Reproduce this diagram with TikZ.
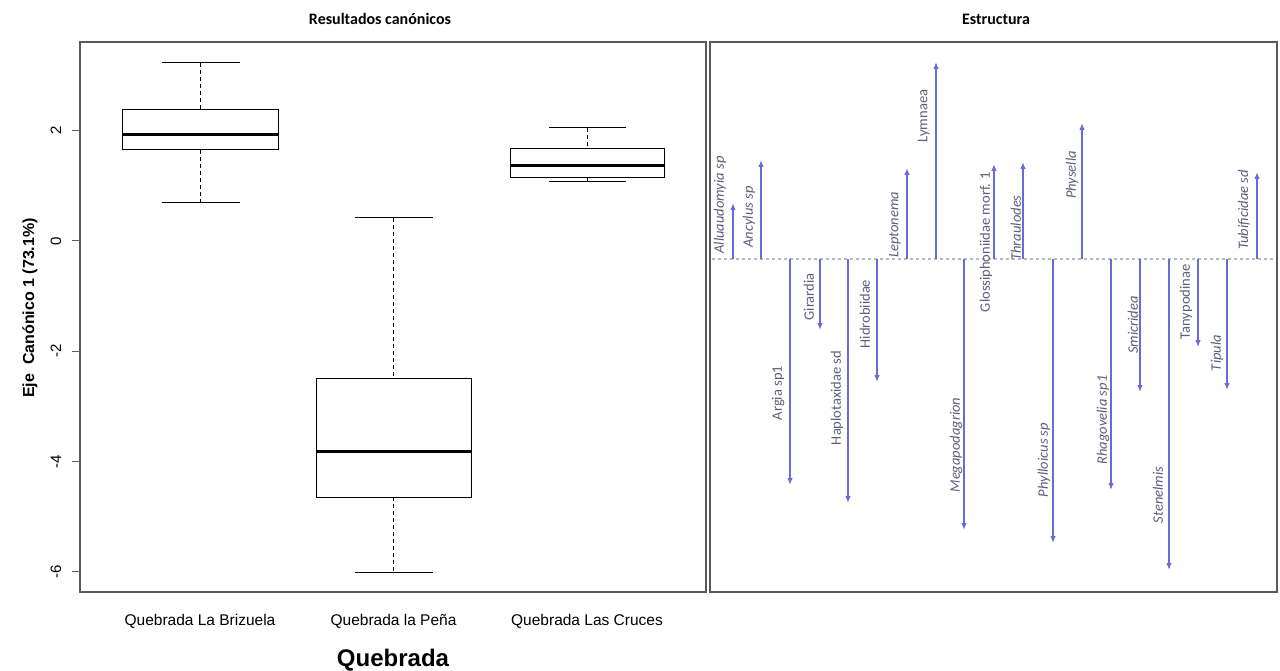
\documentclass[tikz,border=0pt]{standalone}
\usepackage{fontspec}
\setmainfont{Liberation Sans}
\newfontfamily\calib{Carlito}
\usetikzlibrary{arrows.meta}
\definecolor{arrowblue}{HTML}{6A6AD6}
\definecolor{labgray}{HTML}{5E5E7C}
\definecolor{framegray}{HTML}{5A5A5A}
\definecolor{basegray}{HTML}{B8B8C0}
\tikzset{
  frame/.style={draw=framegray, line width=1.3pt},
  boxline/.style={draw=black, line width=1pt},
  medline/.style={draw=black, line width=3pt},
  whisk/.style={draw=black, line width=0.9pt, dash pattern=on 4pt off 3pt},
  capline/.style={draw=black, line width=1pt},
  ticklab/.style={rotate=90, font=\fontsize{15}{15}\selectfont, inner sep=0pt},
  xlab/.style={font=\fontsize{15.5}{15.5}\selectfont, inner sep=0pt},
  titlelab/.style={font=\calib\bfseries\fontsize{16}{16}\selectfont, inner sep=0pt},
  arr/.style={draw=arrowblue, line width=1.5pt, -{Latex[length=7pt,width=5.5pt]}},
  splab/.style={rotate=90, text=labgray, font=\calib\fontsize{14.5}{14.5}\selectfont, inner sep=0pt}
}
\begin{document}
\begin{tikzpicture}[x=1pt,y=-1pt]
\useasboundingbox[fill=white] (0,0) rectangle (1280,671);

% titles
\node[titlelab] (t1) at (380,19) {Resultados canónicos};
\node[titlelab] (t2) at (996,19) {Estructura};

% frames
\draw[frame] (80,42) rectangle (706,592);
\draw[frame, line width=1.7pt] (710,42) rectangle (1277,592);

% y axis ticks
\foreach \v in {2,0,-2,-4,-6}{
  \pgfmathsetmacro{\yy}{241-55.1*\v}
  \draw[framegray, line width=1pt] (72,\yy) -- (80,\yy);
  \node[ticklab] (tick\v) at (56,\yy) {\v};
}
\node[rotate=90, font=\bfseries\fontsize{16}{16}\selectfont, inner sep=0pt] (ylab) at (30,308) {Eje\ \ Canónico 1 (73.1\%)};

% box 1: Quebrada La Brizuela
\draw[whisk] (200,63) -- (200,110);
\draw[whisk] (200,150) -- (200,203);
\draw[capline] (162,63) -- (240,63);
\draw[capline] (162,203) -- (240,203);
\draw[boxline, fill=white] (122,110) rectangle (278,150);
\draw[medline] (122,135) -- (278,135);

% box 2: Quebrada la Peña
\draw[whisk] (393.5,218) -- (393.5,378);
\draw[whisk] (393.5,497) -- (393.5,572);
\draw[capline] (355,218) -- (433,218);
\draw[capline] (355,572) -- (433,572);
\draw[boxline, fill=white] (316,378) rectangle (471,497);
\draw[medline] (316,451) -- (471,451);

% box 3: Quebrada Las Cruces
\draw[whisk] (587,128) -- (587,149);
\draw[whisk] (587,178) -- (587,182);
\draw[capline] (549,128) -- (626,128);
\draw[capline] (549,182) -- (626,182);
\draw[boxline, fill=white] (510,149) rectangle (664,178);
\draw[medline] (510,166) -- (664,166);

% x labels
\node[xlab] (g1) at (200,621) {Quebrada La Brizuela};
\node[xlab] (g2) at (393.5,621) {Quebrada la Peña};
\node[xlab] (g3) at (587,621) {Quebrada Las Cruces};
\node[font=\bfseries\fontsize{24}{24}\selectfont, inner sep=0pt] (xt) at (393,660) {Quebrada};

% right panel baseline
\coordinate (bl) at (712,259);
\coordinate (br) at (1275,259);
\draw[basegray, line width=1.2pt, dash pattern=on 3pt off 3pt] (bl) -- (br);

% arrows
\foreach \i/\ax/\ty/\lx/\ly/\ff/\txt in {
  1/733/203/720/205/\itshape/Alluaudomyia sp,
  2/761/160/749/217/\itshape/Ancylus sp,
  3/790/485/778/393/\upshape/Argia sp1,
  4/820/330/809/297/\upshape/Girardia,
  5/848/503/837/398/\upshape/Haplotaxidae sd,
  6/877/382/865/314/\upshape/Hidrobiidae,
  7/907/168/895/225/\itshape/Leptonema,
  8/936/62/924/116/\upshape/Lymnaea,
  9/964/530/956/445/\itshape/Megapodagrion,
  10/994/164/986/242/\upshape/Glossiphoniidae morf. 1,
  11/1023/162/1016/228/\itshape/Thraulodes,
  12/1053/543/1044/460/\itshape/Phylloicus sp,
  13/1082/123/1072/175/\itshape/Physella,
  14/1111/490/1103/420/\itshape/Rhagovelia sp1,
  15/1140/392/1133/325/\itshape/Smicridea,
  16/1169/570/1158/495/\itshape/Stenelmis,
  17/1198/347/1186/302/\upshape/Tanypodinae,
  18/1227/390/1217/353/\itshape/Tipula,
  19/1257/172/1244/210/\itshape/Tubificidae sd}{
  \coordinate (b\i) at (\ax,259);
  \coordinate (e\i) at (\ax,\ty);
  \draw[arr] (b\i) -- (e\i);
  \node[splab] (l\i) at (\lx,\ly) {\ff\txt};
}
\end{tikzpicture}
\end{document}
